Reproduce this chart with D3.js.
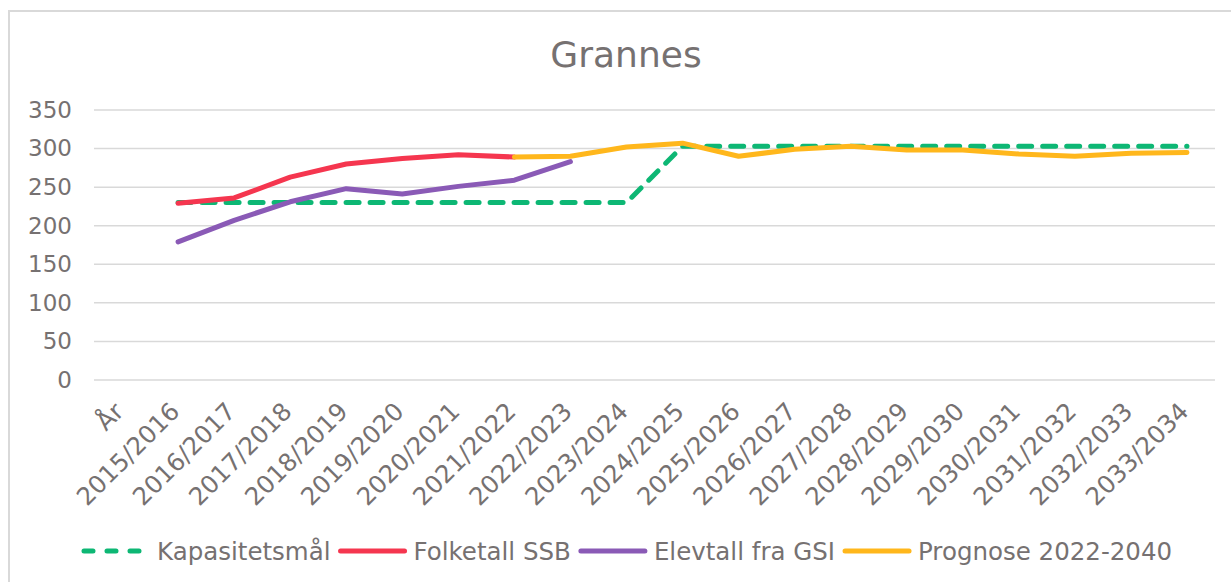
<!DOCTYPE html>
<html>
<head>
<meta charset="utf-8">
<script src="https://cdn.jsdelivr.net/npm/d3@7"></script>
<style>
  body { margin: 0; background: #fff; }
  svg { display: block; font-family: "DejaVu Sans", Verdana, sans-serif; }
</style>
</head>
<body>
<svg id="chart" width="1231" height="582"></svg>
<script>
// kategorier (skoleår)
const categories = ["År", "2015/2016", "2016/2017", "2017/2018", "2018/2019", "2019/2020",
    "2020/2021", "2021/2022", "2022/2023", "2023/2024", "2024/2025", "2025/2026",
    "2026/2027", "2027/2028", "2028/2029", "2029/2030", "2030/2031", "2031/2032",
    "2032/2033", "2033/2034"];

// serier
const kapasitet = [null, 230, 230, 230, 230, 230, 230, 230, 230, 230,
    303, 303, 303, 303, 303, 303, 303, 303, 303, 303];
const folketall = [null, 229, 236, 263, 280, 287, 292, 289, null, null,
    null, null, null, null, null, null, null, null, null, null];
const elevtall = [null, 179, 207, 231, 248, 241, 251, 259, 283, null,
    null, null, null, null, null, null, null, null, null, null];
const prognose = [null, null, null, null, null, null, null, 289, 290, 302,
    307, 290, 299, 303, 298, 298, 293, 290, 294, 295];

const yTicks = [0, 50, 100, 150, 200, 250, 300, 350];

const series = [
    { name: "Kapasitetsmål", values: kapasitet, color: "#0db774", dash: "13 11" },
    { name: "Folketall SSB", values: folketall, color: "#f5364f", dash: null },
    { name: "Elevtall fra GSI", values: elevtall, color: "#8a5ab6", dash: null },
    { name: "Prognose 2022-2040", values: prognose, color: "#ffb71c", dash: null }
];

const textColor = "#767171";
const gridColor = "#d9d9d9";

const svg = d3.select("#chart");

// ramme
svg.append("path")
    .attr("d", "M9,600 V11 H1240")
    .attr("fill", "none")
    .attr("stroke", gridColor)
    .attr("stroke-width", 2);

// tittel
svg.append("text")
    .attr("x", 626)
    .attr("y", 67)
    .attr("text-anchor", "middle")
    .attr("fill", textColor)
    .style("font-size", "36px")
    .text("Grannes");

// skalaer
const x = d3.scaleBand()
    .domain(categories)
    .range([94, 1215]);

const y = d3.scaleLinear()
    .domain([0, 350])
    .range([380, 110]);

const cx = d => x(d) + x.bandwidth() / 2;

// rutenett
svg.append("g")
    .selectAll("line")
    .data(yTicks)
    .join("line")
    .attr("x1", 94)
    .attr("x2", 1215)
    .attr("y1", d => y(d))
    .attr("y2", d => y(d))
    .attr("stroke", gridColor)
    .attr("stroke-width", 1.5);

// y-akse
const yAxis = svg.append("g")
    .attr("transform", "translate(72,0)")
    .call(d3.axisLeft(y).tickValues(yTicks).tickSize(0).tickPadding(0));
yAxis.select(".domain").remove();
yAxis.selectAll("text")
    .attr("fill", textColor)
    .style("font-size", "23px")
    .style("font-family", "DejaVu Sans, Verdana, sans-serif");

// x-akse (roterte etiketter)
const xAxis = svg.append("g")
    .attr("transform", "translate(0,380)")
    .call(d3.axisBottom(x).tickSize(0).tickPadding(0));
xAxis.select(".domain").remove();
xAxis.selectAll("text")
    .attr("fill", textColor)
    .style("font-size", "24.5px")
    .style("font-family", "DejaVu Sans, Verdana, sans-serif")
    .attr("text-anchor", "end")
    .attr("dy", null)
    .attr("y", 0)
    .attr("transform", "translate(-10,20) rotate(-45)")
    .attr("dominant-baseline", "hanging");

// linjer
const line = d3.line()
    .defined(d => d.v !== null)
    .x(d => cx(d.c))
    .y(d => y(d.v));

svg.append("g")
    .selectAll("path")
    .data(series)
    .join("path")
    .attr("d", s => line(categories.map((c, i) => ({ c: c, v: s.values[i] }))))
    .attr("fill", "none")
    .attr("stroke", s => s.color)
    .attr("stroke-width", 5)
    .attr("stroke-linecap", "round")
    .attr("stroke-linejoin", "round")
    .attr("stroke-dasharray", s => s.dash);

// forklaring
const legend = svg.append("g").attr("transform", "translate(82,551)");
const sampleLen = 68;
let lx = 0;
series.forEach(s => {
    const item = legend.append("g").attr("transform", `translate(${lx},0)`);
    item.append("line")
        .attr("x1", 2).attr("x2", sampleLen - 2)
        .attr("y1", 0).attr("y2", 0)
        .attr("stroke", s.color)
        .attr("stroke-width", 5)
        .attr("stroke-linecap", "round")
        .attr("stroke-dasharray", s.dash ? "9 14" : null);
    const t = item.append("text")
        .attr("x", sampleLen + 7)
        .attr("y", 0)
        .attr("dy", "0.36em")
        .attr("fill", textColor)
        .style("font-size", "24.5px")
        .text(s.name);
    lx += sampleLen + 7 + t.node().getComputedTextLength() + 8;
});
</script>
</body>
</html>
